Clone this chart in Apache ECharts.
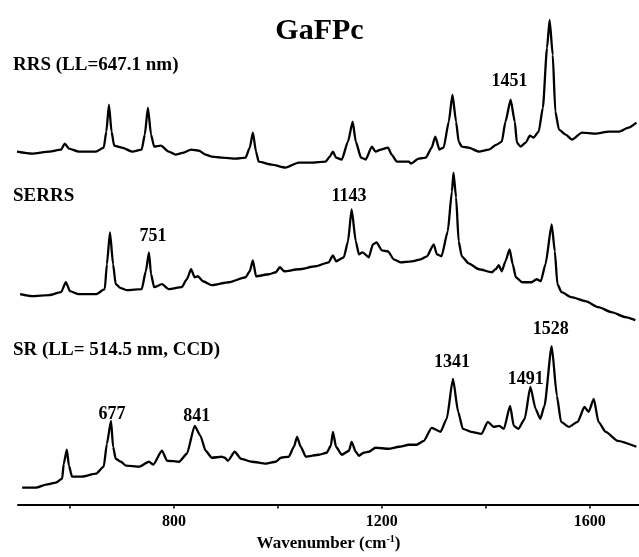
<!DOCTYPE html>
<html>
<head>
<meta charset="utf-8">
<script src="https://cdn.jsdelivr.net/npm/echarts@6/dist/echarts.min.js"></script>
<style>
html,body{margin:0;padding:0;background:#fff;}
#c{width:639px;height:557px;}
</style>
</head>
<body>
<div id="c"></div>
<script>
// Spectra: [wavenumber (cm-1), relative intensity]
const rrsData = [[498,54],[527,52],[560,54],[583,56],[590,62],[598,57],[617,54],[650,54],[665,58],[670,74],[675,101],[680,74],[685,60],[700,58],[720,54],[738,56],[744,71],[750,98],[756,71],[762,59],[775,60],[790,54],[803,51],[819,53],[833,56],[848,55],[861,51],[873,49],[892,48],[919,47],[938,48],[946,58],[952,73],[958,54],[963,44],[988,41],[1015,38],[1040,43],[1065,43],[1092,44],[1100,49],[1106,54],[1112,48],[1123,46],[1135,64],[1144,84],[1150,64],[1160,48],[1169,46],[1181,59],[1188,54],[1198,56],[1212,58],[1219,51],[1229,44],[1252,44],[1256,42],[1271,47],[1285,48],[1296,58],[1303,69],[1311,56],[1319,58],[1329,84],[1336,111],[1343,84],[1348,64],[1354,59],[1367,58],[1387,54],[1406,56],[1421,61],[1431,64],[1438,84],[1448,106],[1456,84],[1460,63],[1467,59],[1477,63],[1485,70],[1492,68],[1502,74],[1510,98],[1518,158],[1523,186],[1529,151],[1534,94],[1541,76],[1554,71],[1566,66],[1585,73],[1611,72],[1637,74],[1656,74],[1675,78],[1690,83]];
const serrsData = [[504,41],[527,39],[560,40],[583,43],[592,53],[600,44],[617,41],[650,41],[667,46],[671,71],[677,103],[683,71],[688,51],[698,47],[710,45],[738,46],[746,64],[752,83],[756,61],[762,48],[777,51],[790,46],[815,48],[825,56],[833,66],[840,58],[846,59],[856,54],[873,50],[906,53],[938,58],[946,64],[952,75],[958,59],[983,61],[996,63],[1004,68],[1012,64],[1040,66],[1073,69],[1098,73],[1106,80],[1112,74],[1127,78],[1135,94],[1142,126],[1150,94],[1156,81],[1163,83],[1175,78],[1183,91],[1190,93],[1200,85],[1212,84],[1223,76],[1236,73],[1258,74],[1275,76],[1287,79],[1300,91],[1306,81],[1315,79],[1327,104],[1335,144],[1338,163],[1343,138],[1348,94],[1354,79],[1367,72],[1387,66],[1412,63],[1419,66],[1425,70],[1431,64],[1438,74],[1446,86],[1452,71],[1458,58],[1470,53],[1488,53],[1498,56],[1506,54],[1515,71],[1527,111],[1533,84],[1538,51],[1546,43],[1565,38],[1592,34],[1617,28],[1642,23],[1669,18],[1688,15]];
const srData = [[508,17],[535,17],[554,20],[573,22],[585,26],[588,41],[594,55],[598,39],[604,28],[623,28],[650,31],[665,38],[671,61],[679,84],[683,58],[688,46],[698,43],[708,39],[733,38],[752,43],[760,40],[777,54],[787,44],[810,43],[825,51],[840,79],[851,69],[861,54],[873,47],[892,48],[898,47],[904,44],[917,53],[929,46],[950,43],[977,41],[996,43],[1006,47],[1021,48],[1031,58],[1037,68],[1044,58],[1054,48],[1079,50],[1094,52],[1102,59],[1106,73],[1112,58],[1123,50],[1137,54],[1142,63],[1150,53],[1156,49],[1165,52],[1175,53],[1188,57],[1213,56],[1233,58],[1252,60],[1267,60],[1281,64],[1296,77],[1313,73],[1325,86],[1337,126],[1347,93],[1356,76],[1372,73],[1392,71],[1404,83],[1415,78],[1426,79],[1435,76],[1447,99],[1454,79],[1463,76],[1475,86],[1486,118],[1496,96],[1505,86],[1513,99],[1527,159],[1537,109],[1545,83],[1560,78],[1577,83],[1590,98],[1598,93],[1608,106],[1617,83],[1631,73],[1654,64],[1690,58]];

const spectrumNames = ['RRS (LL=647.1 nm)', 'SERRS', 'SR (LL= 514.5 nm, CCD)'];
const spectrumOffsets = [300, 170, 0];

// Peak annotations: text, wavenumber position, height (in stacked units)
const peakNames = ['1451', '751', '1143', '677', '841', '1341', '1491', '1528'];
const peakX = [1446, 760, 1137, 681, 844, 1335, 1477, 1525];
const peakY = [424, 269, 309, 91, 89, 143, 126, 176];

const tickValues = [600, 800, 1000, 1200, 1400, 1600];
const tickLabelValues = [800, 1200, 1600];

const FONT = "'Liberation Serif','Times New Roman',serif";

const spectra = [rrsData, serrsData, srData];
const series = spectra.map((d, i) => ({
  type: 'line',
  name: spectrumNames[i],
  data: d.map(p => [p[0], p[1] + spectrumOffsets[i]]),
  showSymbol: false,
  smooth: 0.2,
  smoothMonotone: 'x',
  lineStyle: { color: '#000', width: 2.3 },
  silent: true
}));
series.push({
  type: 'scatter',
  data: peakNames.map((n, i) => ({ value: [peakX[i], peakY[i]], name: n })),
  symbolSize: 1,
  itemStyle: { color: 'rgba(0,0,0,0)' },
  label: {
    show: true, position: 'inside', formatter: '{b}',
    fontFamily: FONT, fontWeight: 'bold', fontSize: 18, color: '#000',
    textBorderWidth: 0, opacity: 1
  },
  silent: true,
  z: 5
});

const chart = echarts.init(document.getElementById('c'));
chart.setOption({
  animation: false,
  backgroundColor: '#fff',
  title: {
    text: 'GaFPc', left: 'center', top: 11,
    textStyle: { fontFamily: FONT, fontWeight: 'bold', fontSize: 30, color: '#000' }
  },
  grid: { left: 18, right: 0, top: 6, bottom: 49 },
  xAxis: {
    type: 'value', min: 500, max: 1695,
    name: '{a|Wavenumber (cm}{b|-1}{a|)}',
    nameLocation: 'middle', nameGap: 24,
    nameTextStyle: {
      rich: {
        a: { fontFamily: FONT, fontWeight: 'bold', fontSize: 17, color: '#000' },
        b: { fontFamily: FONT, fontWeight: 'bold', fontSize: 10, color: '#000', verticalAlign: 'top', padding: [0, 0, 8, 0] }
      }
    },
    axisLine: { lineStyle: { color: '#000', width: 2 } },
    axisTick: { show: true, inside: false, length: 4, customValues: tickValues, lineStyle: { color: '#000', width: 1.5 } },
    axisLabel: { customValues: tickLabelValues, margin: 7, formatter: v => String(v), fontFamily: FONT, fontWeight: 'bold', fontSize: 16, color: '#000' },
    splitLine: { show: false }
  },
  yAxis: {
    type: 'value', min: -2, max: 500, show: false
  },
  graphic: spectrumNames.map((n, i) => ({
    type: 'text', left: 13, top: [56, 187, 341][i],
    style: { text: n, font: `bold 19px ${FONT}`, fill: '#000' }
  })),
  series: series
});
</script>
</body>
</html>
